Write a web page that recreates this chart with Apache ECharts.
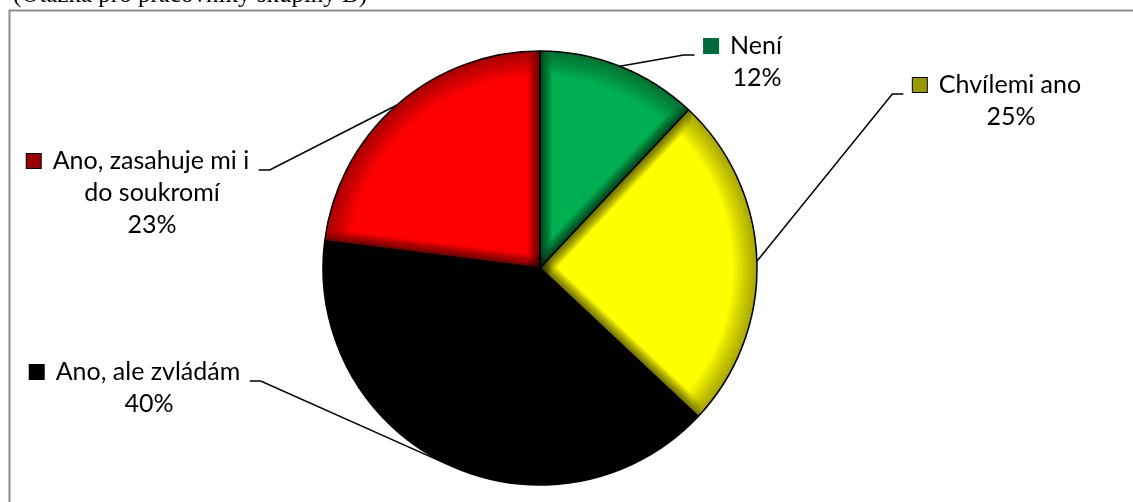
<!DOCTYPE html>
<html>
<head>
<meta charset="utf-8">
<title>Zátěž práce</title>
<script src="https://cdn.jsdelivr.net/npm/echarts@6/dist/echarts.min.js"></script>
<style>
  html, body { margin: 0; padding: 0; background: #fff; }
  #chart { width: 1133px; height: 502px; }
</style>
</head>
<body>
<div id="chart"></div>
<script>
// Answers of group B staff, in percent (clockwise from 12 o'clock)
const categories = ['Není', 'Chvílemi ano', 'Ano, ale zvládám', 'Ano, zasahuje mi i\ndo soukromí'];
const shares = [12, 25, 40, 23];
const sliceColors = ['#00B050', '#FFFF00', '#000000', '#FF0000'];
const keyColors = ['#006B3A', '#999900', '#000000', '#990000'];
const keyBorders = ['#006B3A', '#000000', '#000000', '#000000'];

// Where each label block sits: horizontal centre of its text, top of the block,
// and on which side of the pie it lies.
const labelPlace = [
  { cx: 757, top: 30, side: 'right' },
  { cx: 1011, top: 69, side: 'right' },
  { cx: 149, top: 356, side: 'left' },
  { cx: 152, top: 145, side: 'left' }
];

const CENTER = [540, 268];
const RADIUS = 217;
const KEY = 16, KEY_GAP = 12, SPACER = KEY + KEY_GAP;
const LINE_DROP = 25;   // leader line height below the block top
const GAP = 9;          // space between leader line and text
const ELBOW = 11;       // length of the short horizontal leader piece

const rich = {
  g: { width: KEY_GAP, height: 16, verticalAlign: 'middle', lineHeight: 32 },
  sp: { width: SPACER, height: 16, verticalAlign: 'middle', lineHeight: 32 },
  t: { fontFamily: 'Lato', fontSize: 25, color: '#000', lineHeight: 32, verticalAlign: 'middle' }
};
keyColors.forEach(function (c, i) {
  rich['k' + i] = {
    width: KEY - 2, height: KEY - 2, backgroundColor: c,
    borderColor: keyBorders[i], borderWidth: 1, verticalAlign: 'middle', lineHeight: 32
  };
});

const data = categories.map(function (name, i) {
  return { name: name, value: shares[i], itemStyle: { color: sliceColors[i] } };
});

// Soft darkening along every slice edge, built from many faint translucent outlines
const shadeWidths = [];
for (let w = 2; w <= 24; w += 2) shadeWidths.push(w);
const shadeSeries = shadeWidths.map(function (w) {
  return {
    type: 'pie',
    center: CENTER,
    radius: RADIUS - w / 2,
    startAngle: 90,
    clockwise: true,
    silent: true,
    animation: false,
    label: { show: false },
    labelLine: { show: false },
    emphasis: { disabled: true },
    itemStyle: { color: 'rgba(0,0,0,0)', borderColor: 'rgba(0,0,0,0.03)', borderWidth: w, borderJoin: 'round' },
    data: shares.map(function (v, i) { return { name: categories[i], value: v }; })
  };
});

const chart = echarts.init(document.getElementById('chart'), null, { renderer: 'canvas' });
chart.setOption({
  animation: false,
  backgroundColor: '#fff',
  title: {
    text: '(Otázka pro pracovníky skupiny B)',
    left: 8,
    top: -22,
    textStyle: { fontFamily: 'Liberation Serif', fontSize: 25, fontWeight: 'normal', color: '#000' }
  },
  graphic: [{
    type: 'rect',
    z: -1,
    shape: { x: 9.5, y: 10.5, width: 1200, height: 600 },
    style: { fill: 'none', stroke: '#8C8C8C', lineWidth: 2 }
  }],
  series: [{
    type: 'pie',
    center: CENTER,
    radius: RADIUS,
    startAngle: 90,
    clockwise: true,
    avoidLabelOverlap: false,
    emphasis: { disabled: true },
    itemStyle: { borderColor: '#000', borderWidth: 1.5 },
    label: {
      show: true,
      position: 'outside',
      rich: rich,
      formatter: function (p) {
        const lines = p.name.split('\n');
        let s = '{k' + p.dataIndex + '|}{g|}{t|' + lines[0] + '}{sp|}';
        for (let j = 1; j < lines.length; j++) s += '\n{t|' + lines[j] + '}';
        return s + '\n{t|' + p.value + '%}';
      }
    },
    labelLine: { show: true, smooth: false, lineStyle: { color: '#000', width: 1.5 } },
    labelLayout: function (params) {
      const place = labelPlace[params.dataIndex];
      const w = params.labelRect.width;
      const y = place.top + LINE_DROP;
      let end, elbow;
      if (place.side === 'right') {
        const x = place.cx - w / 2 - GAP;
        end = [x, y];
        elbow = [x - ELBOW, y];
      } else {
        const x = place.cx + w / 2 - SPACER + GAP;
        end = [x, y];
        elbow = [x + ELBOW, y];
      }
      return {
        x: place.cx,
        y: place.top,
        align: 'center',
        verticalAlign: 'top',
        labelLinePoints: [params.labelLinePoints[0], elbow, end]
      };
    },
    data: data
  }].concat(shadeSeries)
});
</script>
</body>
</html>
